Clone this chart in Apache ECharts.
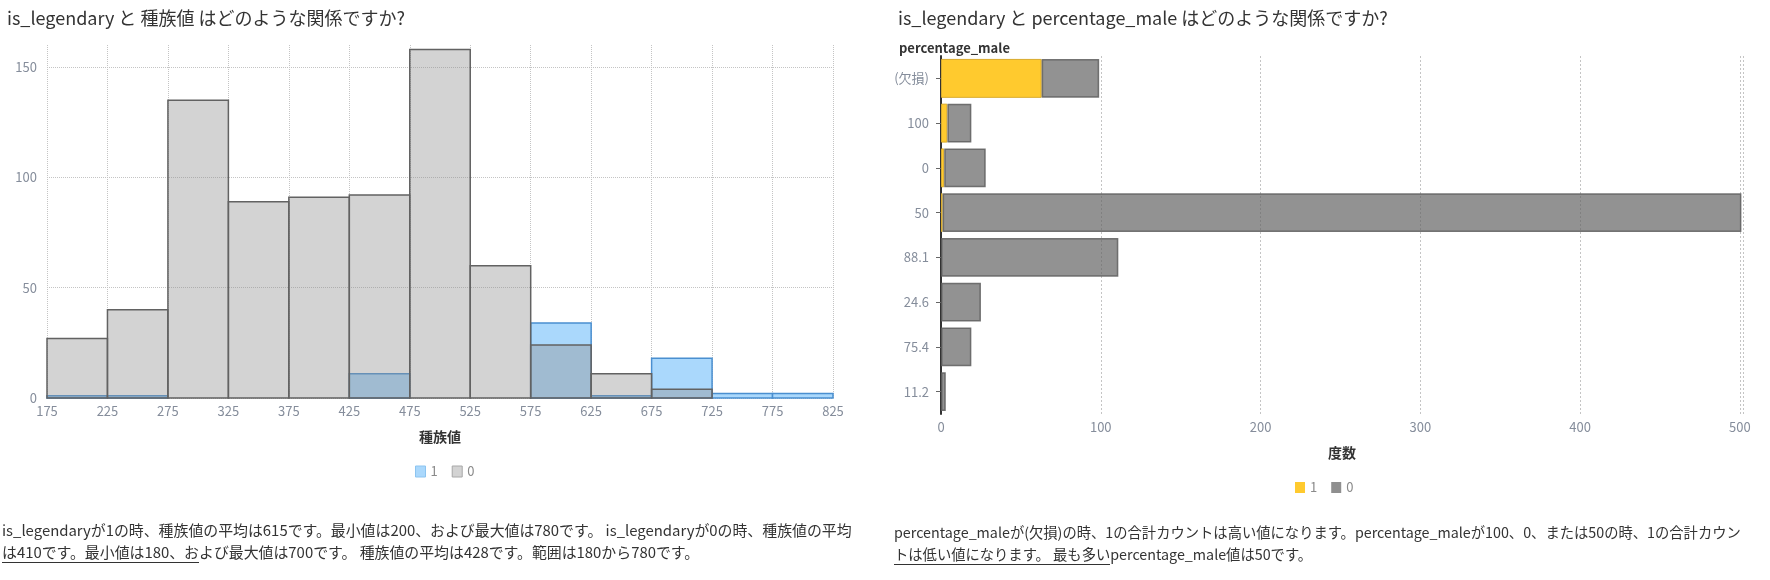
<!DOCTYPE html>
<html>
<head>
<meta charset="utf-8">
<script src="https://cdn.jsdelivr.net/npm/echarts@6/dist/echarts.min.js"></script>
<style>
html,body{margin:0;padding:0;background:#fff;}
#chart{position:absolute;left:0;top:0;width:1770px;height:580px;}
.desc{position:absolute;font-family:"Noto Sans CJK JP",sans-serif;color:#333;line-height:22px;white-space:nowrap;}
.desc u{text-decoration:none;border-bottom:1px solid #333;}
</style>
</head>
<body>
<div id="chart"></div>
<div class="desc" style="left:2px;top:519px;font-size:14.9px;">is_legendaryが1の時、種族値の平均は615です。最小値は200、および最大値は780です。 is_legendaryが0の時、種族値の平均<br><u>は410です。最小値は180、お</u>よび最大値は700です。 種族値の平均は428です。範囲は180から780です。</div>
<div class="desc" style="left:894px;top:521px;font-size:14.3px;">percentage_maleが(欠損)の時、1の合計カウントは高い値になります。percentage_maleが100、0、または50の時、1の合計カウン<br><u>トは低い値になります。 最も多い</u>percentage_male値は50です。</div>
<script>
// ---- Left chart: histogram of 種族値 by is_legendary ----
const binEdges = [175, 225, 275, 325, 375, 425, 475, 525, 575, 625, 675, 725, 775, 825];
const histLegendary1 = [1, 1, 0, 0, 0, 11, 0, 0, 34, 1, 18, 2, 2];
const histLegendary0 = [27, 40, 135, 89, 91, 92, 158, 60, 24, 11, 4, 0, 0];
const seriesNames = ['1', '0'];

// ---- Right chart: percentage_male counts by is_legendary ----
const maleCategories = ['(欠損)', '100', '0', '50', '88.1', '24.6', '75.4', '11.2'];
const maleCount1 = [63, 4, 2, 1, 0, 0, 0, 0];
const maleCount0 = [36, 15, 26, 500, 111, 25, 19, 3];

const FONT = '"Noto Sans CJK JP", sans-serif';
const labelColor = '#858d9b';

function binData(counts) {
  return counts.map((c, i) => [binEdges[i], binEdges[i + 1], c]);
}
function histItem(fill, stroke, lw) {
  return function (params, api) {
    const v = api.value(2);
    if (!v) return null;
    const p0 = api.coord([api.value(0), 0]);
    const p1 = api.coord([api.value(1), v]);
    return {
      type: 'rect',
      shape: { x: p0[0], y: p1[1], width: p1[0] - p0[0], height: p0[1] - p1[1] },
      style: { fill: fill, stroke: stroke, lineWidth: lw }
    };
  };
}
const nz = a => a.map(v => (v === 0 ? null : v));

const legendText = { color: '#8a8a8a', fontSize: 13, fontFamily: FONT };

const chart = echarts.init(document.getElementById('chart'));
chart.setOption({
  animation: false,
  textStyle: { fontFamily: FONT },
  title: [
    { text: 'is_legendary と 種族値 はどのような関係ですか?', left: 2, top: 4,
      textStyle: { fontSize: 18, fontWeight: 'normal', color: '#333', fontFamily: FONT } },
    { text: 'is_legendary と percentage_male はどのような関係ですか?', left: 893, top: 4,
      textStyle: { fontSize: 18, fontWeight: 'normal', color: '#333', fontFamily: FONT } },
    { text: 'percentage_male', left: 894, top: 37,
      textStyle: { fontSize: 13, fontWeight: 'bold', color: '#333', fontFamily: FONT } }
  ],
  legend: [
    { data: [
        { name: seriesNames[0], itemStyle: { color: '#aad8fc', borderColor: '#8cc4f0', borderWidth: 1 } },
        { name: seriesNames[1], itemStyle: { color: '#d3d3d3', borderColor: '#a8a8a8', borderWidth: 1 } }
      ],
      left: 410, top: 460, icon: 'rect', itemWidth: 10, itemHeight: 11, itemGap: 14, textStyle: legendText },
    { data: [
        { name: seriesNames[0], itemStyle: { color: '#ffca2e', borderColor: '#ffca2e', borderWidth: 0 } },
        { name: seriesNames[1], itemStyle: { color: '#8f8f8f', borderColor: '#8f8f8f', borderWidth: 0 } }
      ],
      left: 1290, top: 476, icon: 'rect', itemWidth: 10, itemHeight: 11, itemGap: 14, textStyle: legendText }
  ],
  grid: [
    { left: 47, right: 937, top: 45, bottom: 182 },
    { left: 941, right: 27, top: 56, bottom: 166 }
  ],
  xAxis: [
    { gridIndex: 0, type: 'value', min: 175, max: 825, interval: 50,
      name: '種族値', nameLocation: 'middle', nameGap: 32,
      nameTextStyle: { fontSize: 14, fontWeight: 'bold', color: '#333', fontFamily: FONT },
      axisLine: { show: false }, axisTick: { show: false },
      axisLabel: { color: labelColor, fontSize: 13, margin: 7 },
      splitLine: { show: true, lineStyle: { type: 'dotted', color: '#c4c4c4' } } },
    { gridIndex: 1, type: 'value', min: 0, max: 502, interval: 100,
      name: '度数', nameLocation: 'middle', nameGap: 32,
      nameTextStyle: { fontSize: 14, fontWeight: 'bold', color: '#333', fontFamily: FONT },
      axisLine: { show: false }, axisTick: { show: false },
      axisLabel: { color: labelColor, fontSize: 13, margin: 7, showMaxLabel: false },
      splitLine: { show: true, lineStyle: { type: [2, 2], color: '#c4c4c4' } } }
  ],
  yAxis: [
    { gridIndex: 0, type: 'value', min: 0, max: 160, interval: 50,
      axisLine: { show: false }, axisTick: { show: false },
      axisLabel: { color: labelColor, fontSize: 13, margin: 10, showMaxLabel: false },
      splitLine: { show: true, lineStyle: { type: 'dotted', color: ['#c4c4c4', '#c4c4c4', '#c4c4c4', '#c4c4c4', 'rgba(0,0,0,0)'] } } },
    { gridIndex: 1, type: 'category', data: maleCategories, inverse: true,
      axisLine: { show: true, lineStyle: { color: '#333', width: 2 } },
      axisTick: { show: true, alignWithLabel: true, length: 5, lineStyle: { color: '#666' } },
      axisLabel: { color: labelColor, fontSize: 13, margin: 12 },
      splitLine: { show: false } }
  ],
  series: [
    { name: seriesNames[0], type: 'custom', xAxisIndex: 0, yAxisIndex: 0,
      renderItem: histItem('#aad8fc', '#4a8fd0', 1.5),
      itemStyle: { color: '#aad8fc' },
      encode: { x: [0, 1], y: 2 }, data: binData(histLegendary1) },
    { name: seriesNames[1], type: 'custom', xAxisIndex: 0, yAxisIndex: 0,
      renderItem: histItem('rgba(145,145,145,0.4)', '#626262', 1.5),
      itemStyle: { color: '#d3d3d3' },
      encode: { x: [0, 1], y: 2 }, data: binData(histLegendary0) },
    { name: seriesNames[0], type: 'bar', xAxisIndex: 1, yAxisIndex: 1, stack: 'm', barCategoryGap: '13%',
      itemStyle: { color: '#ffca2e', borderColor: '#d9ab2c', borderWidth: 1 },
      data: nz(maleCount1) },
    { name: seriesNames[1], type: 'bar', xAxisIndex: 1, yAxisIndex: 1, stack: 'm', barCategoryGap: '13%',
      itemStyle: { color: 'rgba(100,100,100,0.7)', borderColor: 'rgba(95,95,95,0.85)', borderWidth: 1.5 },
      data: nz(maleCount0) }
  ]
});
</script>
</body>
</html>
